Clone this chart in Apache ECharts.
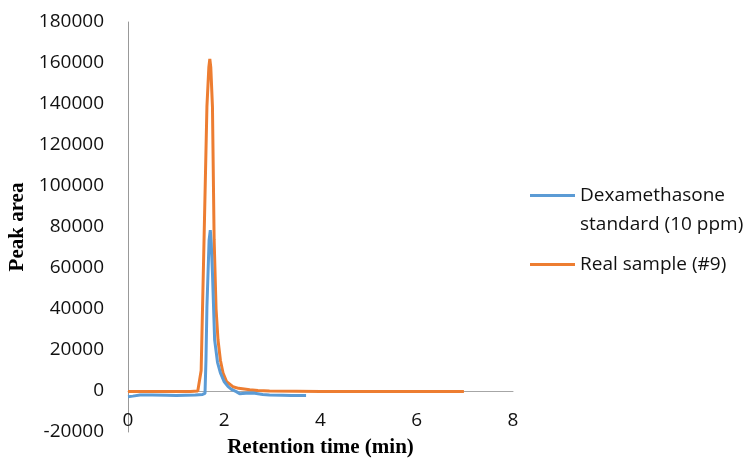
<!DOCTYPE html>
<html>
<head>
<meta charset="utf-8">
<script src="https://cdn.jsdelivr.net/npm/echarts@6/dist/echarts.min.js"></script>
<style>
html,body{margin:0;padding:0;background:#fff;}
#chart{width:752px;height:459px;}
</style>
</head>
<body>
<div id="chart"></div>
<script>
// Dexamethasone standard (10 ppm): [retention time (min), peak area]
var dexaTime = [0, 0.1, 0.25, 0.5, 0.8, 1.0, 1.2, 1.4, 1.55, 1.6, 1.62, 1.64, 1.685, 1.71, 1.73, 1.755, 1.8, 1.86, 1.92, 2.0, 2.08, 2.15, 2.25, 2.32, 2.45, 2.6, 2.8, 2.94, 3.2, 3.4, 3.7];
var dexaArea = [-2800, -2500, -2000, -2000, -2100, -2200, -2100, -2000, -1700, -1200, 15000, 41000, 73600, 78500, 72000, 57500, 25000, 14000, 8800, 4500, 2100, 800, -300, -1300, -1100, -1000, -1700, -2000, -2100, -2200, -2200];

// Real sample (#9)
var realTime = [0, 0.5, 1.0, 1.3, 1.45, 1.49, 1.52, 1.58, 1.64, 1.68, 1.70, 1.72, 1.755, 1.79, 1.83, 1.87, 1.92, 1.975, 2.05, 2.18, 2.3, 2.53, 2.7, 2.94, 3.5, 4.0, 5.0, 6.0, 6.98];
var realArea = [-300, -300, -300, -200, 0, 300, 10000, 73700, 138700, 158000, 162000, 158000, 138700, 73700, 40000, 25000, 15000, 8800, 4500, 2100, 1300, 650, 300, 0, -100, -200, -300, -300, -300];

var seriesNames = ['Dexamethasone standard (10 ppm)', 'Real sample (#9)'];
var xTicks = [0, 2, 4, 6, 8];
var yTicks = [-20000, 0, 20000, 40000, 60000, 80000, 100000, 120000, 140000, 160000, 180000];

function pairs(xs, ys) {
  return xs.map(function (x, i) { return [x, ys[i]]; });
}

var chart = echarts.init(document.getElementById('chart'), null, {renderer: 'canvas'});
var tickFont = 'Open Sans';
chart.setOption({
  animation: false,
  backgroundColor: '#ffffff',
  grid: {left: 128, right: 239, top: 22, bottom: 27, containLabel: false, outerBoundsMode: 'none'},
  legend: {
    orient: 'vertical',
    left: 525,
    top: 147,
    itemGap: 11,
    icon: 'rect',
    itemWidth: 45,
    itemHeight: 3,
    data: seriesNames,
    formatter: function (name) {
      if (name === seriesNames[0]) {
        return ' \nDexamethasone\nstandard (10 ppm)';
      }
      return name;
    },
    textStyle: {fontFamily: tickFont, fontSize: 19, color: '#111', lineHeight: 29}
  },
  xAxis: {
    type: 'value',
    min: xTicks[0],
    max: xTicks[xTicks.length - 1],
    interval: xTicks[1] - xTicks[0],
    name: 'Retention time (min)',
    nameLocation: 'middle',
    nameGap: 5,
    nameTextStyle: {fontFamily: 'Liberation Serif', fontWeight: 'bold', fontSize: 21, color: '#000'},
    axisLine: {onZero: true, lineStyle: {color: '#a6a6a6', width: 1}},
    axisTick: {show: false},
    splitLine: {show: false},
    axisLabel: {fontFamily: tickFont, fontSize: 19, color: '#111', margin: -21}
  },
  yAxis: {
    type: 'value',
    min: yTicks[0],
    max: yTicks[yTicks.length - 1],
    interval: yTicks[1] - yTicks[0],
    name: 'Peak area',
    nameLocation: 'middle',
    nameGap: 99,
    nameRotate: 90,
    nameTextStyle: {fontFamily: 'Liberation Serif', fontWeight: 'bold', fontSize: 21, color: '#000'},
    axisLine: {show: true, onZero: false, lineStyle: {color: '#999999', width: 1}},
    axisTick: {show: false},
    splitLine: {show: false},
    axisLabel: {fontFamily: tickFont, fontSize: 19, color: '#111', margin: 24, formatter: function (v) { return String(v); }}
  },
  series: [
    {
      name: seriesNames[0],
      type: 'line',
      data: pairs(dexaTime, dexaArea),
      showSymbol: false,
      symbol: 'none',
      smooth: false,
      lineStyle: {color: '#5b9bd5', width: 3},
      itemStyle: {color: '#5b9bd5'},
      z: 3
    },
    {
      name: seriesNames[1],
      type: 'line',
      data: pairs(realTime, realArea),
      showSymbol: false,
      symbol: 'none',
      smooth: false,
      lineStyle: {color: '#ed7d31', width: 3},
      itemStyle: {color: '#ed7d31'},
      z: 2
    }
  ]
});
</script>
</body>
</html>
